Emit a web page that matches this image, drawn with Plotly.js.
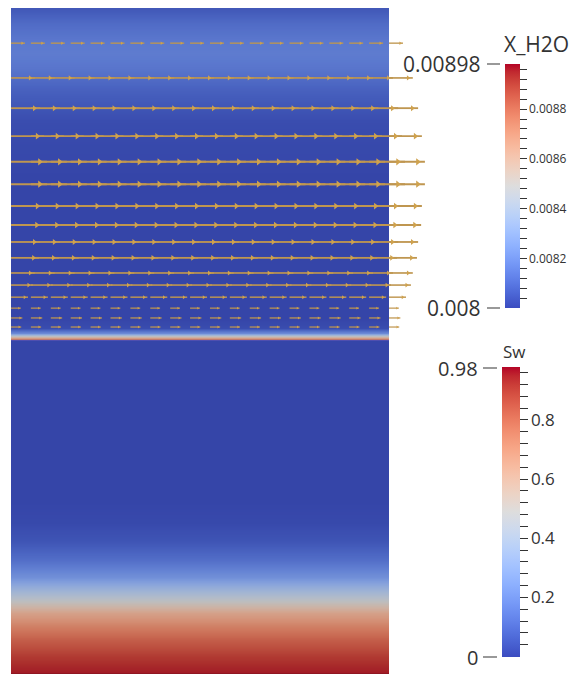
<!DOCTYPE html>
<html>
<head>
<meta charset="utf-8">
<script src="https://cdn.plot.ly/plotly-3.0.1.min.js"></script>
<style>html,body{margin:0;padding:0;background:#fff;}#chart{width:574px;height:674px;}</style>
</head>
<body>
<div id="chart"></div>
<script>
// ---------------- data ----------------
// mesh node x-coordinates (domain width 100)
const nodeX = [0, 5.26, 10.53, 15.79, 21.05, 26.32, 31.58, 36.84, 42.11, 47.37,
               52.63, 57.89, 63.16, 68.42, 73.68, 78.95, 84.21, 89.47, 94.74, 100];
// glyph rows (depth) and horizontal velocity (glyph length units)
const rowDepth = [9.3, 18.5, 26.5, 33.9, 40.7, 46.6, 52.4, 57.4, 61.9, 66.1, 70.1, 73.3, 76.5, 79.4, 82.0, 84.4];
const rowVel   = [3.7, 6.3, 7.7, 8.7, 9.5, 9.5, 8.7, 8.5, 7.7, 7.4, 6.3, 5.8, 4.5, 2.6, 3.0, 2.7];

// X_H2O vertical profile (upper zone)
const xDepth = [0, 0.3, 4, 9, 12, 16, 22, 30, 45, 82, 84.7, 86.0, 86.8, 87.6, 87.9];
const xH2O   = [0.00806, 0.00806, 0.00811, 0.00815, 0.00816, 0.00814, 0.00808, 0.00803, 0.00801,
                0.00801, 0.00803, 0.00820, 0.00848, 0.00875, 0.00888];
// Sw vertical profile (lower zone)
const sDepth = [88.0, 88.4, 130, 136, 141, 146, 150.5, 153.2, 156.6, 160.1, 163.8, 167.2, 171.7, 175.1, 176.2];
const sw     = [0.01, 0.01, 0.01, 0.02, 0.05, 0.12, 0.22, 0.33, 0.47, 0.64, 0.75, 0.83, 0.91, 0.95, 0.96];

const xRange = [0.008, 0.00898];
const swRange = [0, 0.98];
const xTickVals = [0.0082, 0.0084, 0.0086, 0.0088];
const swTickVals = [0.2, 0.4, 0.6, 0.8];
const xMinor = 0.00004, swMinor = 0.04;

// ---------------- styling ----------------
const coolWarm = [
 [0,'rgb(59,76,192)'],[0.03125,'rgb(68,90,204)'],[0.0625,'rgb(77,104,215)'],[0.09375,'rgb(87,117,225)'],
 [0.125,'rgb(98,130,234)'],[0.15625,'rgb(108,142,241)'],[0.1875,'rgb(119,154,247)'],[0.21875,'rgb(130,165,251)'],
 [0.25,'rgb(141,176,254)'],[0.28125,'rgb(152,185,255)'],[0.3125,'rgb(163,194,255)'],[0.34375,'rgb(174,201,253)'],
 [0.375,'rgb(184,208,249)'],[0.40625,'rgb(194,213,244)'],[0.4375,'rgb(204,217,238)'],[0.46875,'rgb(213,219,230)'],
 [0.5,'rgb(221,221,221)'],[0.53125,'rgb(229,216,209)'],[0.5625,'rgb(236,211,197)'],[0.59375,'rgb(241,204,185)'],
 [0.625,'rgb(245,196,173)'],[0.65625,'rgb(247,187,160)'],[0.6875,'rgb(247,177,148)'],[0.71875,'rgb(247,166,135)'],
 [0.75,'rgb(244,154,123)'],[0.78125,'rgb(241,141,111)'],[0.8125,'rgb(236,127,99)'],[0.84375,'rgb(229,112,88)'],
 [0.875,'rgb(222,96,77)'],[0.90625,'rgb(213,80,66)'],[0.9375,'rgb(203,62,56)'],[0.96875,'rgb(192,40,47)'],
 [1,'rgb(180,4,38)']];

const W = 574, H = 674;
const M = {l: 11, r: 134, t: 8, b: 0};
const plotW = W - M.l - M.r, plotH = H - M.t - M.b;
const px2paperX = p => (p - M.l) / plotW;
const px2paperY = p => 1 - (p - M.t) / plotH;
const FONT = '"Open Sans", "DejaVu Sans", sans-serif';
const TXT = '#333';

function ticksFor(range, step, labelled, fmt) {
  const vals = [], txt = [];
  const n = Math.floor((range[1] - range[0]) / step + 1e-6);
  for (let i = 1; i <= n; i++) {
    const v = +(range[0] + i * step).toFixed(8);
    if (v >= range[1] - 1e-9) break;
    vals.push(v);
    const lab = labelled.find(l => Math.abs(l - v) < step / 10);
    txt.push(lab !== undefined ? fmt(lab) : '');
  }
  return {vals, txt};
}
const xT = ticksFor(xRange, xMinor, xTickVals, v => v.toFixed(4));
const sT = ticksFor(swRange, swMinor, swTickVals, v => v.toFixed(1));

const traces = [];
// X_H2O field
traces.push({
  type: 'heatmap', x: [0, 50, 100], y: xDepth,
  z: xH2O.map(v => [v, v]),
  zmin: xRange[0], zmax: xRange[1], colorscale: coolWarm, zsmooth: 'best',
  opacity: 0.86, hoverinfo: 'skip',
  colorbar: {
    xref: 'container', yref: 'container', x: 505 / W, xanchor: 'left',
    y: 1 - 65 / H, yanchor: 'top', len: 247 / H, lenmode: 'fraction',
    thickness: 15, thicknessmode: 'pixels', xpad: 0, ypad: 0, outlinewidth: 0,
    ticks: 'outside', ticklen: 7, tickwidth: 1, tickcolor: TXT,
    tickmode: 'array', tickvals: xT.vals, ticktext: xT.txt,
    tickfont: {family: FONT, size: 12, color: TXT}
  }
});
// Sw field
traces.push({
  type: 'heatmap', x: [0, 50, 100], y: sDepth,
  z: sw.map(v => [v, v]),
  zmin: swRange[0], zmax: swRange[1], colorscale: coolWarm, zsmooth: 'best',
  opacity: 0.86, hoverinfo: 'skip',
  colorbar: {
    xref: 'container', yref: 'container', x: 502 / W, xanchor: 'left',
    y: 1 - 371 / H, yanchor: 'top', len: 293 / H, lenmode: 'fraction',
    thickness: 18, thicknessmode: 'pixels', xpad: 0, ypad: 0, outlinewidth: 0,
    ticks: 'outside', ticklen: 8, tickwidth: 1, tickcolor: TXT,
    tickmode: 'array', tickvals: sT.vals, ticktext: sT.txt,
    tickfont: {family: FONT, size: 17, color: TXT}
  }
});
// velocity glyphs
rowDepth.forEach((d, i) => {
  const L = rowVel[i];
  const sx = [], sy = [], hx = [], hy = [];
  nodeX.forEach(x0 => {
    sx.push(x0, x0 + L, null); sy.push(d, d, null);
    hx.push(x0 + 0.8 * L); hy.push(d);
  });
  traces.push({type: 'scatter', mode: 'lines', x: sx, y: sy, hoverinfo: 'skip', showlegend: false,
    line: {color: '#bf9650', width: 0.9 + L * 0.12}});
  traces.push({type: 'scatter', mode: 'markers', x: hx, y: hy, hoverinfo: 'skip', showlegend: false,
    marker: {symbol: 'triangle-right', size: 1.0 + L * 0.55, color: '#cfa24e', line: {width: 0}}});
});

const ann = (text, px, py, size, xanchor) => ({
  text, xref: 'paper', yref: 'paper', x: px2paperX(px), y: px2paperY(py),
  xanchor, yanchor: 'middle', showarrow: false, font: {family: FONT, size, color: TXT}
});
const dash = (x0, x1, py) => ({type: 'line', xref: 'paper', yref: 'paper',
  x0: px2paperX(x0), x1: px2paperX(x1), y0: px2paperY(py), y1: px2paperY(py),
  line: {color: '#555', width: 1.2}});

const layout = {
  width: W, height: H, margin: M,
  paper_bgcolor: '#ffffff', plot_bgcolor: '#ffffff', showlegend: false,
  xaxis: {range: [0, plotW / 3.78], visible: false, fixedrange: true},
  yaxis: {range: [plotH / 3.78, 0], visible: false, fixedrange: true},
  shapes: [
    {type: 'rect', xref: 'x', yref: 'y', x0: 0, x1: 100, y0: 0, y1: plotH / 3.78,
     fillcolor: '#000', line: {width: 0}, layer: 'below'},
    dash(487, 500, 64), dash(487, 500, 308), dash(483, 497, 368), dash(483, 497, 657)
  ],
  annotations: [
    ann('X_H2O', 502, 44, 21, 'left'),
    ann(String(xRange[1]), 483, 64, 21, 'right'),
    ann(String(xRange[0]), 483, 308, 21, 'right'),
    ann('Sw', 501, 351, 17, 'left'),
    ann(String(swRange[1]), 480, 368, 20, 'right'),
    ann(String(swRange[0]), 480, 657, 20, 'right')
  ]
};
Plotly.newPlot('chart', traces, layout, {displayModeBar: false, staticPlot: true});
</script>
</body>
</html>
